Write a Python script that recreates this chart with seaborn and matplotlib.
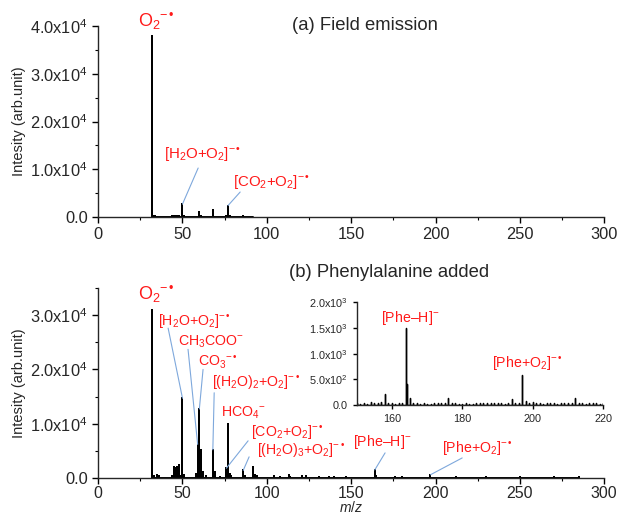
import numpy as np
import pandas as pd
import matplotlib
matplotlib.use("Agg")
import matplotlib.pyplot as plt
from matplotlib.ticker import MultipleLocator, FuncFormatter
import seaborn as sns

# --- podaci: (a) field emission ---
mz_a = [32, 33, 34, 44, 45, 46, 47, 48, 50, 51, 60, 61, 68, 76, 77, 78, 86, 92]
int_a = [38000, 300, 150, 150, 200, 250, 200, 150, 2700, 150, 1050, 200, 1450,
         300, 2400, 200, 150, 100]

# --- podaci: (b) phenylalanine added ---
mz_b = [32, 33, 35, 36, 44, 45, 46, 47, 48, 49, 50, 51, 58, 59, 60, 61, 62, 64,
        68, 69, 72, 76, 77, 78, 79, 86, 87, 92, 93, 94, 104, 108, 113, 114, 121,
        123, 131, 137, 140, 147, 164, 165, 176, 180, 197, 212, 230, 250, 270, 285]
int_b = [31000, 400, 550, 300, 300, 2100, 1800, 2000, 2400, 300, 14700, 600, 800,
         6200, 12700, 5200, 1200, 300, 5200, 1200, 200, 1800, 9900, 800, 300, 1400,
         300, 2000, 600, 300, 400, 200, 600, 200, 300, 400, 200, 200, 150, 150,
         1500, 400, 150, 100, 600, 150, 100, 100, 100, 100]

# --- podaci: uvećani prikaz (inset) ---
mz_in = list(range(150, 221)) + [164.3]
int_in = [30, 25, 35, 28, 50, 30, 40, 65, 208, 35, 30, 25, 45, 40, 1490, 130, 35,
          30, 25, 30, 28, 25, 30, 35, 30, 40, 130, 35, 30, 28, 25, 30, 28, 25, 30,
          35, 40, 45, 45, 35, 40, 30, 28, 35, 117, 30, 35, 585, 85, 35, 50, 35, 30,
          28, 30, 40, 30, 28, 35, 40, 30, 35, 130, 40, 30, 28, 30, 35, 30, 28, 30,
          410]

RAD = "{}^{-\\,•}"   # superskript "−•" za radikal-anjone
labels_a = [f"O$_2{RAD}$", f"[H$_2$O+O$_2$]${RAD}$", f"[CO$_2$+O$_2$]${RAD}$"]
peaks_a = [32, 50, 77]

labels_b = [f"O$_2{RAD}$", f"[H$_2$O+O$_2$]${RAD}$", "CH$_3$COO$^{-}$", f"CO$_3{RAD}$",
            f"[(H$_2$O)$_2$+O$_2$]${RAD}$", "HCO$_4{}^{-}$", f"[CO$_2$+O$_2$]${RAD}$",
            f"[(H$_2$O)$_3$+O$_2$]${RAD}$", "[Phe–H]$^{-}$", f"[Phe+O$_2$]${RAD}$"]
peaks_b = [32, 50, 59, 60, 68, 77, 76, 86, 164, 197]

labels_in = ["[Phe–H]$^{-}$", f"[Phe+O$_2$]${RAD}$"]

RED = "#ff1a1a"
BLUE = "#7ea8dc"

sns.set_theme(style="ticks")
plt.rcParams["font.family"] = ["Liberation Sans", "DejaVu Sans"]
plt.rcParams["mathtext.fontset"] = "custom"
plt.rcParams["mathtext.rm"] = "Liberation Sans"
plt.rcParams["mathtext.it"] = "Liberation Sans:italic"
plt.rcParams["mathtext.bf"] = "Liberation Sans:bold"
plt.rcParams["axes.linewidth"] = 1.0


def sticks(mz, inten):
    # svaki pik kao vertikalna linija (0 -> visina -> 0)
    xs, ys = [], []
    for m, h in sorted(zip(mz, inten)):
        xs += [m, m, m]
        ys += [0, h, 0]
    return pd.DataFrame({"mz": xs, "I": ys})


def sci_fmt(v, pos):
    if v == 0:
        return "0.0"
    e = int(np.floor(np.log10(abs(v)) + 1e-9))
    return f"{v / 10**e:.1f}x10$^{{{e}}}$"


def style_axis(ax, xlim, ylim, xmaj, xmin, ymaj, ymin, fs):
    ax.set_xlim(*xlim)
    ax.set_ylim(*ylim)
    ax.xaxis.set_major_locator(MultipleLocator(xmaj))
    ax.xaxis.set_minor_locator(MultipleLocator(xmin))
    ax.yaxis.set_major_locator(MultipleLocator(ymaj))
    ax.yaxis.set_minor_locator(MultipleLocator(ymin))
    ax.yaxis.set_major_formatter(FuncFormatter(sci_fmt))
    sns.despine(ax=ax)
    ax.tick_params(which="major", length=4, width=1, labelsize=fs, color="black", direction="out")
    ax.tick_params(which="minor", length=2.5, width=0.8, color="black", direction="out")
    ax.set_xlabel("")
    ax.set_ylabel("")


fig = plt.figure(figsize=(6.21, 5.15), dpi=100)
ax_a = fig.add_axes([0.158, 0.5786, 0.815, 0.3709])
ax_b = fig.add_axes([0.158, 0.0718, 0.815, 0.369])
ax_in = fig.add_axes([0.5744, 0.2136, 0.397, 0.1994])

sns.lineplot(data=sticks(mz_a, int_a), x="mz", y="I", sort=False, estimator=None,
             color="black", lw=1.4, ax=ax_a)
sns.lineplot(data=sticks(mz_b, int_b), x="mz", y="I", sort=False, estimator=None,
             color="black", lw=1.4, ax=ax_b)
sns.lineplot(data=sticks(mz_in, int_in), x="mz", y="I", sort=False, estimator=None,
             color="black", lw=1.0, ax=ax_in)

style_axis(ax_a, (0, 300), (0, 40000), 50, 25, 10000, 5000, 11.8)
style_axis(ax_b, (0, 300), (0, 35000), 50, 25, 10000, 5000, 11.8)
style_axis(ax_in, (150, 220), (0, 2000), 20, 10, 500, 250, 7.8)
ax_b.tick_params(axis="x", which="major", pad=2, labelsize=11.5)
ax_in.tick_params(which="major", length=3)
ax_in.tick_params(which="minor", length=0)
ax_in.patch.set_alpha(0)

for ax in (ax_a, ax_b):
    ax.set_ylabel("Intesity (arb.unit)", fontsize=10.5)
    ax.yaxis.set_label_coords(-0.142, 0.5)
ax_b.set_xlabel("$m/z$", fontsize=10)
ax_b.xaxis.set_label_coords(0.5, -0.116)

ax_a.text(0.528, 1.005, "(a) Field emission", transform=ax_a.transAxes,
          ha="center", va="center", fontsize=13.3)
ax_b.text(0.575, 1.082, "(b) Phenylalanine added", transform=ax_b.transAxes,
          ha="center", va="center", fontsize=13.3)

# anotacije: (x teksta, y teksta, početak linije ili None)
top_h = dict(zip(mz_a, int_a))
pos_a = [(23.7, 41000, None), (39.1, 13190, (59.3, 10260)), (80.0, 7330, (84.2, 5235))]
for lab, pk, (tx, ty, ls) in zip(labels_a, peaks_a, pos_a):
    fs = 13 if pk == 32 else 10.8
    ax_a.text(tx, ty, lab, color=RED, fontsize=fs, ha="left", va="center", clip_on=False)
    if ls is not None:
        ax_a.plot([ls[0], pk], [ls[1], top_h[pk]], color=BLUE, lw=0.8)

bot_h = dict(zip(mz_b, int_b))
pos_b = [(23.7, 33900, None), (35.6, 28900, (41.5, 27600)), (47.4, 25000, (53.3, 23700)),
         (59.3, 21300, (62.2, 20000)), (67.6, 17600, (68.8, 15700)), (72.9, 12000, None),
         (90.7, 8500, (88.9, 6850)), (94.3, 5200, (89.5, 3900)),
         (151.2, 6670, (170.1, 4630)), (203.9, 5560, (215.8, 3700))]
for lab, pk, (tx, ty, ls) in zip(labels_b, peaks_b, pos_b):
    fs = 13 if pk == 32 else 10.2
    ax_b.text(tx, ty, lab, color=RED, fontsize=fs, ha="left", va="center", clip_on=False)
    if ls is not None:
        ax_b.plot([ls[0], pk], [ls[1], bot_h[pk]], color=BLUE, lw=0.8)

pos_in = [(156.9, 1694), (188.3, 818)]
for lab, (tx, ty) in zip(labels_in, pos_in):
    ax_in.text(tx, ty, lab, color=RED, fontsize=10.2, ha="left", va="center")

fig.savefig("out.png", dpi=100)
